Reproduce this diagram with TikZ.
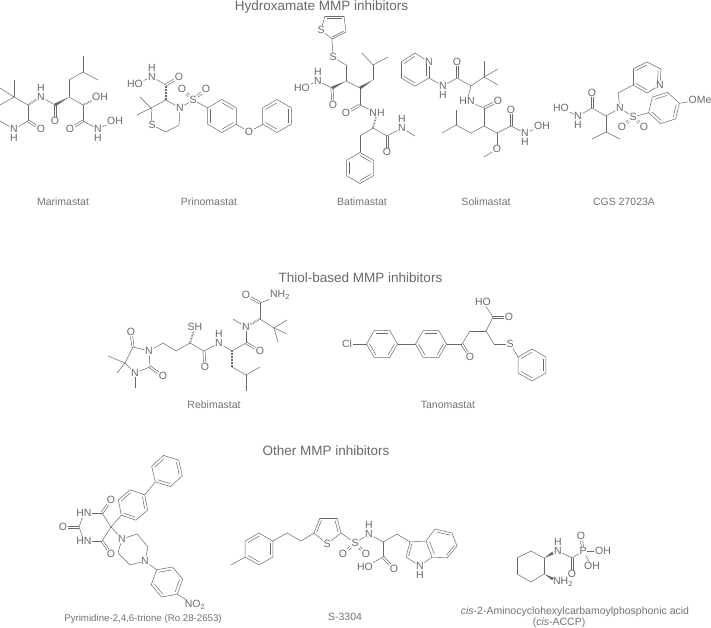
\documentclass[tikz,border=0pt]{standalone}
\usepackage{fontspec}
\setmainfont{Liberation Sans}
\usetikzlibrary{calc}
\definecolor{molgray}{RGB}{105,105,105}
\definecolor{textgray}{RGB}{115,115,115}
\begin{document}
\begin{tikzpicture}[x=1pt,y=-1pt,
    bond/.style={molgray,line width=0.5pt},
    hashbond/.style={molgray,line width=2pt,dash pattern=on 0.5pt off 1pt},
    atom/.style={inner sep=0.5pt,text=molgray,font=\fontsize{10.5}{11}\selectfont},
    molname/.style={inner sep=0pt,text=textgray,font=\fontsize{10.5}{12}\selectfont},
    heading/.style={inner sep=0pt,text=molgray,font=\fontsize{13.5}{15}\selectfont}]
    \def\carbons#1{\foreach \n/\x/\y in {#1} \coordinate (\n) at (\x,\y);}
    \def\atoms#1{\foreach \n/\x/\y/\lab in {#1} \node[atom] (\n) at (\x,\y) {\lab};}
    \def\bonds#1{\foreach \a/\b in {#1} \draw[bond] (\a) -- (\b);}
    \def\doubles#1{\foreach \a/\b in {#1} {
        \path (\a) -- (\b) coordinate[pos=0] (da) coordinate[pos=1] (db);
        \draw[bond] ($(da)!1.1pt!90:(db)$) -- ($(db)!1.1pt!-90:(da)$);
        \draw[bond] ($(da)!1.1pt!-90:(db)$) -- ($(db)!1.1pt!90:(da)$);
    }}
    \def\hashes#1{\foreach \a/\b in {#1} \draw[hashbond] (\a) -- (\b);}
    \def\wedgebond#1#2{\fill[molgray] (#1) -- ($(#2)!1.5pt!90:(#1)$) -- ($(#2)!1.5pt!-90:(#1)$) -- cycle;}
    \def\innerbonds#1#2{\foreach \a/\b in {#2} \draw[bond] ($(\a)!0.2!(#1)$) -- ($(\b)!0.2!(#1)$);}
    \def\benzene#1#2#3#4#5{
        \coordinate (#1c) at (#2,#3);
        \foreach \i in {1,...,6} \coordinate (#1\i) at ({#2+#4*cos(#5+60*\i)},{#3+#4*sin(#5+60*\i)});
        \draw[bond] (#11) -- (#12) -- (#13) -- (#14) -- (#15) -- (#16) -- cycle;
        \innerbonds{#1c}{#11/#12,#13/#14,#15/#16}
    }
    \useasboundingbox (0,0) rectangle (711,628);
    \fill[white] (0,0) rectangle (711,628);

    % Headings
    \node[heading] (hydroxamate) at (321.5,7) {Hydroxamate MMP inhibitors};
    \node[heading] (thiol) at (360.5,278) {Thiol-based MMP inhibitors};
    \node[heading] (other) at (326,451) {Other MMP inhibitors};

    % Marimastat
    \carbons{m1/14/97,m2/14/80,m3/0/88,m4/0/105,m5/28/105,m6/28/121,m7/0/121,m8/55/105,m9/69/97,m10/69/80,m11/83/72,m12/83/56,m13/98/80,m14/83/105,m15/83/121}
    \atoms{mN1/41/97/N,mH1/41/88/H,mO1/41/129/O,mN2/14/129/N,mH2/14/138/H,mO2/55/121/O,mOH1/100/97/OH,mO3/70/129/O,mN3/98/129/N,mH3/98/138/H,mOH2/115/121/OH}
    \bonds{m1/m2,m1/m3,m1/m4,m1/m5,m5/m6,m6/mN2,mN2/m7,mN1/m8,m9/m10,m10/m11,m11/m12,m11/m13,m9/m14,m14/m15,m15/mN3,mN3/mOH2}
    \doubles{m6/mO1,m8/mO2,m15/mO3}
    \hashes{m5/mN1,m14/mOH1}
    \wedgebond{m9}{m8}
    \node[molname] (marimastat) at (63,202) {Marimastat};

    % Prinomastat
    \carbons{p1/166/85,p2/166/100,p3/151/108,p4/140/97,p5/137/115,p6/166/132,p7/179/125}
    \atoms{pH/152/68/H,pN1/152/77/N,pO1/179/77/O,pHO/135/84/HO,pS1/152/125/S,pN2/180/108/N,pS2/193/100/S,pO2/182/89/O,pO3/206/89/O,pO4/249/132/O}
    \benzene{pa}{222}{116}{16.5}{-150}
    \benzene{pb}{277}{116}{16.5}{-90}
    \bonds{pHO/pN1,pN1/p1,p3/p2,p3/p4,p3/p5,p3/pS1,pS1/p6,p6/p7,p7/pN2,pN2/p2,pN2/pS2,pS2/pa6,pa3/pO4,pO4/pb4}
    \doubles{p1/pO1,pS2/pO2,pS2/pO3}
    \hashes{p2/p1}
    \node[molname] (prinomastat) at (209,202) {Prinomastat};

    % Batimastat
    \carbons{b1/325/16,b2/344/16,b3/346/32,b4/332/39,b5/346/65,b6/346/81,b7/332/88,b8/360/88,b9/373/80,b10/373/65,b11/362/53,b12/388/57,b13/360/105,b14/373/128,b15/360/136,b16/387/136,b17/415/136,bc/334/28}
    \atoms{bS1/321/30/S,bS2/333/57/S,bO1/333/105/O,bN1/318/81/N,bH1/318/72/H,bHO/302/88/HO,bO2/346/113/O,bNH/377/113/NH,bO3/387/152/O,bN2/402/128/N,bH2/402/119/H}
    \benzene{ba}{360}{168}{15.5}{-150}
    \bonds{b1/b2,b3/b4,b1/bS1,b2/b3,b4/bS1,b4/bS2,bS2/b5,b5/b6,b7/bN1,bN1/bHO,b6/b8,b9/b10,b10/b11,b10/b12,b8/b13,b13/bNH,b14/b15,b15/ba1,b14/b16,b16/bN2,bN2/b17}
    \innerbonds{bc}{b1/b2,b3/b4}
    \doubles{b7/bO1,b13/bO2,b16/bO3}
    \hashes{bNH/b14}
    \wedgebond{b6}{b7}
    \wedgebond{b9}{b8}
    \node[molname] (batimastat) at (362,202) {Batimastat};

    % Solimastat
    \carbons{s1/415/53,s2/401/62,s3/401/78,s4/415/86,s5/429/78,s6/457/78,s7/471/86,s8/484/77,s9/484/61,s10/498/69,s11/498/85,s12/484/108,s13/484/126,s14/471/133,s15/456/125,s16/456/110,s17/442/133,s18/497/133,s19/484/157,s20/511/126,sc/415/70}
    \atoms{sN1/429/62/N,sN2/443/86/N,sH1/443/95/H,sO1/457/62/O,sHN/467/101/HN,sO2/498/101/O,sO3/497/149/O,sO4/511/110/O,sN3/525/133/N,sH2/525/142/H,sOH/542/126/OH}
    \bonds{s1/s2,s2/s3,s3/s4,s4/s5,s5/sN1,sN1/s1,s5/sN2,sN2/s6,s6/s7,s7/s8,s8/s9,s8/s10,s8/s11,s7/sHN,sHN/s12,s12/s13,s13/s14,s14/s15,s15/s16,s15/s17,s13/s18,s18/sO3,sO3/s19,s18/s20,s20/sN3,sN3/sOH}
    \innerbonds{sc}{s1/s2,s3/s4,s5/sN1}
    \doubles{s6/sO1,s12/sO2,s20/sO4}
    \node[molname] (solimastat) at (486,202) {Solimastat};

    % CGS 27023A
    \carbons{g1/592/108,g2/606/116,g3/606/132,g4/592/139,g5/620/139,g6/618/93,g7/633/85,g8/633/69,g9/647/62,g10/661/69,g11/647/93,gc/647/77}
    \atoms{gHO/561/108/HO,gN1/578/116/N,gH/578/125/H,gO1/592/93/O,gN2/620/108/N,gN3/660/85/N,gS/633/117/S,gO2/622/127/O,gO3/644/127/O,gOMe/700/100/OMe}
    \benzene{ga}{664}{108}{16}{163}
    \bonds{gHO/gN1,gN1/g1,g1/g2,g2/g3,g3/g4,g3/g5,g2/gN2,gN2/g6,g6/g7,g7/g8,g8/g9,g9/g10,g10/gN3,gN3/g11,g11/g7,gN2/gS,gS/ga6,ga3/gOMe}
    \innerbonds{gc}{g8/g9,g10/gN3,g11/g7}
    \doubles{g1/gO1,gS/gO2,gS/gO3}
    \node[molname] (cgs) at (624,202) {CGS 27023A};

    % Rebimastat
    \carbons{r1/133/347,r2/125/363,r3/150/367,r4/108/356,r5/117/373,r6/135/388,r7/163/343,r8/176/351,r9/190/343,r10/204/351,r11/232/351,r12/232/367,r13/246/375,r14/246/391,r15/260/367,r16/246/343,r17/233/319,r18/260/319,r19/260/303,r20/274/328,r21/287/320,r22/287/334,r23/278/342}
    \atoms{rN1/149/351/N,rN2/135/373/N,rO1/131/332/O,rO2/163/376/O,rSH/195/327/SH,rO3/205/367/O,rN3/219/343/N,rH/219/334/H,rO4/260/351/O,rN4/246/327/N,rO5/246/295/O,rNH/280/295/{NH\textsubscript{2}}}
    \bonds{rN1/r1,r1/r2,r2/rN2,rN2/r3,r3/rN1,r2/r4,r2/r5,rN2/r6,rN1/r7,r7/r8,r8/r9,r9/r10,r10/rN3,rN3/r11,r12/r13,r13/r14,r13/r15,r11/r16,r16/rN4,rN4/r17,r18/r19,r18/r20,r20/r21,r20/r22,r20/r23,r19/rNH}
    \doubles{r1/rO1,r3/rO2,r10/rO3,r16/rO4,r19/rO5}
    \hashes{r9/rSH,r11/r12,r18/rN4}
    \node[molname] (rebimastat) at (214,405) {Rebimastat};

    % Tanomastat
    \carbons{t1/462/344,t2/470/331,t3/486/331,t4/493/317,t5/494/344}
    \atoms{tCl/347/344/Cl,tO1/470/357/O,tO2/509/317/O,tHO/483/302/HO,tS/510/344/S}
    \benzene{ta}{382}{344}{15.5}{180}
    \benzene{tb}{431}{344}{15.5}{180}
    \benzene{td}{532}{365}{16}{-90}
    \bonds{tCl/ta6,ta3/tb6,tb3/t1,t1/t2,t2/t3,t3/t4,t4/tHO,t3/t5,t5/tS,tS/td5}
    \doubles{t1/tO1,t4/tO2}
    \node[molname] (tanomastat) at (448,405) {Tanomastat};

    % Pyrimidine-2,4,6-trione
    \carbons{y1/79/527,y2/102/541,y3/111/527,y4/102/513,y5/137/534,y6/148/547,y7/130/565,y8/118/553}
    \atoms{yN1/84/513/HN,yN2/84/541/HN,yO1/63/527/O,yO2/111/554/O,yO3/111/500/O,yN3/122/539/N,yN4/145/561/N,yNO/195/605/{NO\textsubscript{2}}}
    \benzene{ya}{133}{505}{15.5}{139}
    \benzene{yb}{167}{471}{16}{137}
    \benzene{yd}{167}{582}{16}{170}
    \bonds{yN1/y1,y1/yN2,yN2/y2,y2/y3,y3/y4,y4/yN1,y3/ya6,y3/yN3,yN3/y5,y5/y6,y6/yN4,yN4/y7,y7/y8,y8/yN3,ya3/yb6,yN4/yd1,yd4/yNO}
    \doubles{y1/yO1,y2/yO2,y4/yO3}
    \node[molname,font=\fontsize{9.7}{12}\selectfont] (pyrimidine) at (143,619) {Pyrimidine-2,4,6-trione (Ro 28-2653)};

    % S-3304
    \carbons{k1/231/565,k2/287/533,k3/301/541,k4/314/533,k5/320/518,k6/337/518,k7/341/533,k8/383/542,k9/397/534,k10/383/557,k11/410/542,k12/406/557,k13/432/557,k14/426/541,k15/435/529,k16/452/533,k17/457/546,k18/447/558,kp/327/530,kq/419/552,kr/444/544}
    \atoms{kS1/327/544/S,kS2/355/543/S,kO1/343/554/O,kO2/366/554/O,kN1/369/534/N,kH1/369/525/H,kO3/394/569/O,kHO/365/567/HO,kN2/420/566/N,kH2/420/575/H}
    \benzene{ka}{259}{549}{16}{-90}
    \bonds{ka4/k1,ka1/k2,k2/k3,k3/k4,k4/k5,k5/k6,k6/k7,k7/kS1,kS1/k4,k7/kS2,kS2/kN1,kN1/k8,k8/k9,k9/k11,k8/k10,k10/kHO,k11/k12,k12/kN2,kN2/k13,k13/k14,k14/k11,k14/k15,k15/k16,k16/k17,k17/k18,k18/k13}
    \innerbonds{kp}{k4/k5,k6/k7}
    \innerbonds{kq}{k11/k12}
    \innerbonds{kr}{k13/k14,k15/k16,k17/k18}
    \doubles{kS2/kO1,kS2/kO2,k10/kO3}
    \node[molname] (sthreethree) at (345,617) {S-3304};

    % cis-ACCP
    \carbons{a1/531/551,a2/544/558,a3/544/574,a4/531/582,a5/517/574,a6/517/558,a7/572/558,a8/553/553,a9/553/579}
    \atoms{aN1/558/551/N,aH/558/542/H,aO1/572/574/O,aP/583/551/P,aO2/581/536/O,aOH1/603/551/OH,aOH2/592/566/OH,aNH/563/582/{NH\textsubscript{2}}}
    \bonds{a1/a2,a2/a3,a3/a4,a4/a5,a5/a6,a6/a1,aN1/a7,a7/aP,aP/aOH1,aP/aOH2}
    \doubles{a7/aO1,aP/aO2}
    \wedgebond{a2}{a8}
    \wedgebond{a3}{a9}
    \node[molname] (accpone) at (575,612) {\textit{cis}-2-Aminocyclohexylcarbamoylphosphonic acid};
    \node[molname] (accptwo) at (559,623) {(\textit{cis}-ACCP)};
\end{tikzpicture}
\end{document}
